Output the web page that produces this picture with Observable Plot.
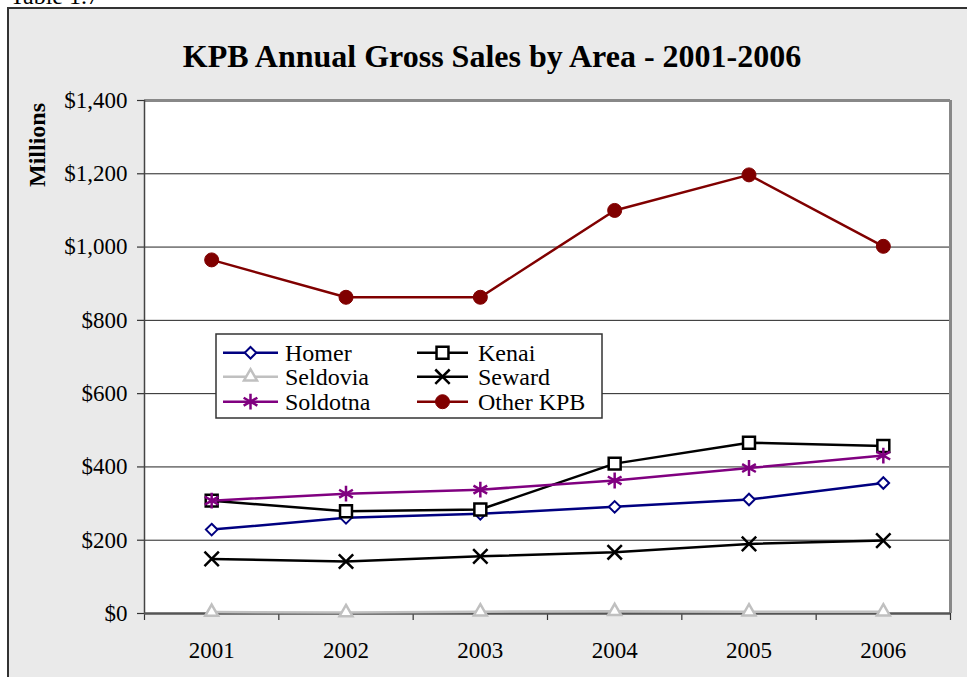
<!DOCTYPE html>
<html>
<head>
<meta charset="utf-8">
<script src="https://cdn.jsdelivr.net/npm/d3@7"></script>
<script src="https://cdn.jsdelivr.net/npm/@observablehq/plot@0.6"></script>
<style>
  html, body { margin: 0; padding: 0; background: #ffffff; }
  body { width: 967px; height: 677px; overflow: hidden; position: relative; font-family: "Liberation Serif", "Times New Roman", serif; }
  #box { position: absolute; left: 7px; top: 7px; width: 980px; height: 690px; background: #eaeaea; border-left: 2px solid #333; border-top: 2px solid #333; box-sizing: border-box; }
  #chart { position: absolute; left: 0; top: 0; }
  #overlay { position: absolute; left: 0; top: 0; pointer-events: none; }
</style>
</head>
<body>
<div id="box"></div>
<div id="chart"></div>
<svg id="overlay" width="967" height="677"></svg>
<script>
// ---- data ----
const years = [2001, 2002, 2003, 2004, 2005, 2006];
const seriesNames = ["Homer", "Kenai", "Seldovia", "Seward", "Soldotna", "Other KPB"];
const homer    = [229, 261, 272, 291, 311, 356];
const kenai    = [308, 279, 284, 409, 466, 457];
const seldovia = [4, 3, 5, 6, 5, 5];
const seward   = [149, 142, 156, 167, 190, 199];
const soldotna = [308, 327, 338, 363, 397, 431];
const otherKPB = [965, 863, 863, 1100, 1197, 1002];
const yTicks = [0, 200, 400, 600, 800, 1000, 1200, 1400];
const xBoundaries = [2000.5, 2001.5, 2002.5, 2003.5, 2004.5, 2005.5, 2006.5];
const titleText = "KPB Annual Gross Sales by Area - 2001-2006";
const yLabelText = "Millions";
const tableText = "Table 1.7";

const seriesValues = [homer, kenai, seldovia, seward, soldotna, otherKPB];

// ---- styles ----
const styles = {
  "Homer":     {color: "#000080", symbol: "diamond2",  fill: "white",   r: 5.2, sw: 2},
  "Kenai":     {color: "#000000", symbol: "square2",   fill: "white",   r: 7.6, sw: 2.5},
  "Seldovia":  {color: "#c0c0c0", symbol: "triangle2", fill: "white",   r: 6.2, sw: 2.5},
  "Seward":    {color: "#000000", symbol: "times",     fill: "none",    r: 6.6, sw: 2.5},
  "Soldotna":  {color: "#800080", symbol: "asterisk",  fill: "none",    r: 7.5, sw: 2.5},
  "Other KPB": {color: "#800000", symbol: "circle",    fill: "#800000", r: 7,   sw: 1}
};

const data = seriesNames.flatMap((name, i) =>
  years.map((yr, j) => ({series: name, year: yr, value: seriesValues[i][j]})));

const seriesMarks = seriesNames.flatMap(name => {
  const s = styles[name];
  const d = data.filter(r => r.series === name);
  return [
    Plot.line(d, {x: "year", y: "value", stroke: s.color, strokeWidth: 2.5}),
    Plot.dot(d, {x: "year", y: "value", symbol: s.symbol, r: s.r, stroke: s.color,
                 fill: s.fill, strokeWidth: s.sw})
  ];
});

const font = "Liberation Serif";

const chart = Plot.plot({
  width: 967,
  height: 677,
  marginLeft: 144,
  marginRight: 17,
  marginTop: 100,
  marginBottom: 64,
  style: {background: "transparent", fontFamily: font, fontSize: "23px", color: "#000", overflow: "visible"},
  x: {domain: [2000.5, 2006.5]},
  y: {domain: [0, 1400]},
  marks: [
    Plot.frame({fill: "white", stroke: null}),
    Plot.ruleY(yTicks.filter(t => t > 0 && t < 1400), {stroke: "#222", strokeWidth: 1}),
    Plot.ruleY([1400], {stroke: "#888", strokeWidth: 3}),
    Plot.ruleX([2006.5], {stroke: "#888", strokeWidth: 3}),
    Plot.axisY({ticks: yTicks, tickSize: 7, tickPadding: 10, label: null,
                tickFormat: d => "$" + d3.format(",")(d), fontSize: 23, stroke: "#333", strokeWidth: 1.2}),
    Plot.axisX({ticks: xBoundaries, tickSize: 7, tickFormat: () => "", label: null, stroke: "#333", strokeWidth: 1.2}),
    Plot.axisX({ticks: years, tickSize: 0, tickPadding: 28, tickFormat: d => String(d), label: null, fontSize: 23}),
    Plot.ruleX([2000.5], {stroke: "#444", strokeWidth: 1.5}),
    Plot.ruleY([0], {stroke: "#555", strokeWidth: 2.5}),
    ...seriesMarks
  ]
});
document.getElementById("chart").appendChild(chart);

// ---- overlay texts and legend ----
const ov = d3.select("#overlay");
ov.append("text").attr("x", 10).attr("y", 4).attr("font-family", font).attr("font-size", 24)
  .text(tableText);
ov.append("text").attr("x", 492).attr("y", 67).attr("text-anchor", "middle")
  .attr("font-family", font).attr("font-size", 32).attr("font-weight", "bold").text(titleText);
ov.append("text").attr("transform", "translate(45,145) rotate(-90)").attr("text-anchor", "middle")
  .attr("font-family", font).attr("font-size", 24).attr("font-weight", "bold").text(yLabelText);

const lg = ov.append("g").attr("transform", "translate(216,334)");
lg.append("rect").attr("width", 386).attr("height", 84).attr("fill", "white")
  .attr("stroke", "#333").attr("stroke-width", 1.5);
const symMap = {diamond2: d3.symbolDiamond2, square2: d3.symbolSquare2, triangle2: d3.symbolTriangle2,
                times: d3.symbolTimes, asterisk: d3.symbolAsterisk, circle: d3.symbolCircle};
const colX = [[7, 62, 69], [201, 252, 262]];
const rowY = [18.7, 42.7, 67.7];
seriesNames.forEach((name, i) => {
  const s = styles[name];
  const c = colX[i % 2], ry = rowY[Math.floor(i / 2)];
  const g = lg.append("g");
  g.append("line").attr("x1", c[0]).attr("x2", c[1]).attr("y1", ry).attr("y2", ry)
    .attr("stroke", s.color).attr("stroke-width", 2.5);
  g.append("path").attr("transform", `translate(${(c[0] + c[1]) / 2},${ry})`)
    .attr("d", d3.symbol(symMap[s.symbol], Math.PI * s.r * s.r)())
    .attr("fill", s.fill).attr("stroke", s.color).attr("stroke-width", s.sw);
  g.append("text").attr("x", c[2]).attr("y", ry + 8.5).attr("font-family", font).attr("font-size", 24)
    .text(name);
});
</script>
</body>
</html>
